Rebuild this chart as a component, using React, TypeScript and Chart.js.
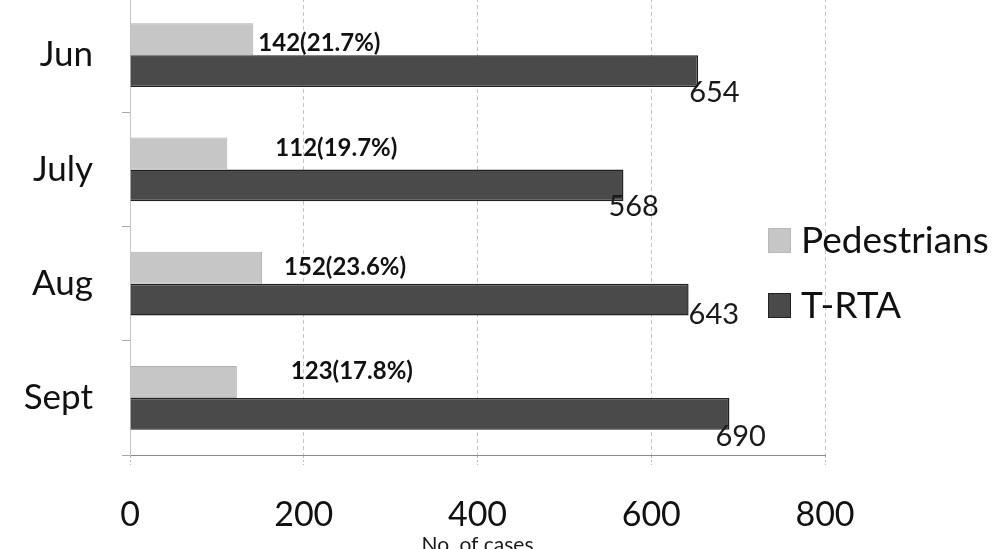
import { useEffect, useRef } from "react";
import { Chart, registerables } from "chart.js";

Chart.register(...registerables);

const months = ["Jun", "July", "Aug", "Sept"];
const pedestrians = [142, 112, 152, 123];
const tRta = [654, 568, 643, 690];
const pedestrianPct = ["21.7", "19.7", "23.6", "17.8"];
const xTicks = [0, 200, 400, 600, 800];

// hand nudges for the value labels, they sit a bit irregularly in the original
const pedLabelNudge = [
  [5, 4],
  [48, -5],
  [22, 0],
  [54, -11],
];
const rtaLabelNudge = [
  [-9, 6],
  [-15, 5],
  [0, -1],
  [-14, 7],
];

const FONT = "Lato, 'Open Sans', sans-serif";
const PED_COLOR = "#c6c6c6";
const RTA_COLOR = "#4a4a4a";

const valueLabels = {
  id: "valueLabels",
  afterDatasetsDraw(chart: any) {
    const ctx = chart.ctx;
    ctx.save();
    ctx.fillStyle = "#111";
    ctx.textAlign = "left";
    ctx.textBaseline = "middle";

    const pedMeta = chart.getDatasetMeta(0);
    ctx.font = `bold 24px ${FONT}`;
    pedMeta.data.forEach((el: any, i: number) => {
      const [dx, dy] = pedLabelNudge[i];
      ctx.fillText(`${pedestrians[i]}(${pedestrianPct[i]}%)`, el.x + dx, el.y + dy);
    });

    const rtaMeta = chart.getDatasetMeta(1);
    ctx.font = `29px ${FONT}`;
    ctx.fillStyle = "#1a1a1a";
    rtaMeta.data.forEach((el: any, i: number) => {
      const [dx, dy] = rtaLabelNudge[i];
      ctx.fillText(String(tRta[i]), el.x + dx, el.y + el.height / 2 + dy);
    });
    ctx.restore();
  },
};

export default function App() {
  const canvasRef = useRef<HTMLCanvasElement>(null);
  const chartRef = useRef<Chart | null>(null);

  useEffect(() => {
    if (!canvasRef.current) return;
    if (chartRef.current) {
      chartRef.current.destroy();
      chartRef.current = null;
    }

    chartRef.current = new Chart(canvasRef.current, {
      type: "bar",
      data: {
        labels: months,
        datasets: [
          {
            label: "Pedestrians",
            data: pedestrians,
            backgroundColor: PED_COLOR,
            borderColor: "#b0b0b0",
            borderWidth: 1,
            barPercentage: 1,
            categoryPercentage: 0.56,
          },
          {
            label: "T-RTA",
            data: tRta,
            backgroundColor: RTA_COLOR,
            borderColor: "#222",
            borderWidth: 1.5,
            barPercentage: 1,
            categoryPercentage: 0.56,
          },
        ],
      },
      options: {
        indexAxis: "y",
        responsive: false,
        animation: false,
        devicePixelRatio: 1,
        layout: { padding: { top: 1, right: 174, bottom: 0, left: 0 } },
        plugins: {
          legend: { display: false },
          tooltip: { enabled: false },
        },
        scales: {
          x: {
            min: 0,
            max: 800,
            afterBuildTicks: (axis: any) => {
              axis.ticks = xTicks.map((v) => ({ value: v }));
            },
            afterFit: (axis: any) => {
              axis.height = 103;
            },
            grid: {
              color: "#c4c4c4",
              tickLength: 10,
              tickColor: "#b8b8b8",
              tickBorderDash: [2, 2],
            },
            border: { display: true, color: "#8a8a8a", dash: [4, 3] },
            ticks: {
              color: "#111",
              padding: 30,
              font: { family: FONT, size: 34 },
            },
            title: {
              display: true,
              text: "No. of cases",
              color: "#1a1a1a",
              padding: { top: 0, bottom: 0 },
              font: { family: FONT, size: 21 },
            },
          },
          y: {
            afterFit: (axis: any) => {
              axis.width = 130;
              axis.paddingTop = 0;
              axis.paddingBottom = 0;
            },
            grid: {
              offset: true,
              drawOnChartArea: false,
              tickLength: 8,
              color: "#a8a8a8",
            },
            border: { display: true, color: "#c4c4c4" },
            ticks: {
              color: "#111",
              padding: 29,
              font: { family: FONT, size: 35 },
            },
          },
        },
      },
      plugins: [valueLabels],
    });

    return () => {
      if (chartRef.current) {
        chartRef.current.destroy();
        chartRef.current = null;
      }
    };
  }, []);

  const legendItems = [
    { label: "Pedestrians", color: PED_COLOR, border: "#b8b8b8", top: 228 },
    { label: "T-RTA", color: RTA_COLOR, border: "#222", top: 293 },
  ];

  return (
    <div
      style={{
        position: "fixed",
        left: 0,
        top: 0,
        width: 999,
        height: 549,
        overflow: "hidden",
        background: "#fff",
      }}
    >
      <canvas
        ref={canvasRef}
        width={999}
        height={561}
        style={{ position: "absolute", left: 0, top: -3, width: 999, height: 561 }}
      />
      {legendItems.map((item) => (
        <div key={item.label}>
          <div
            style={{
              position: "absolute",
              left: 768,
              top: item.top,
              width: 21,
              height: 23,
              background: item.color,
              border: `1px solid ${item.border}`,
            }}
          />
          <div
            style={{
              position: "absolute",
              left: 801,
              top: item.top - 11,
              fontFamily: FONT,
              fontSize: 37,
              lineHeight: "44px",
              color: "#111",
              whiteSpace: "nowrap",
            }}
          >
            {item.label}
          </div>
        </div>
      ))}
    </div>
  );
}
